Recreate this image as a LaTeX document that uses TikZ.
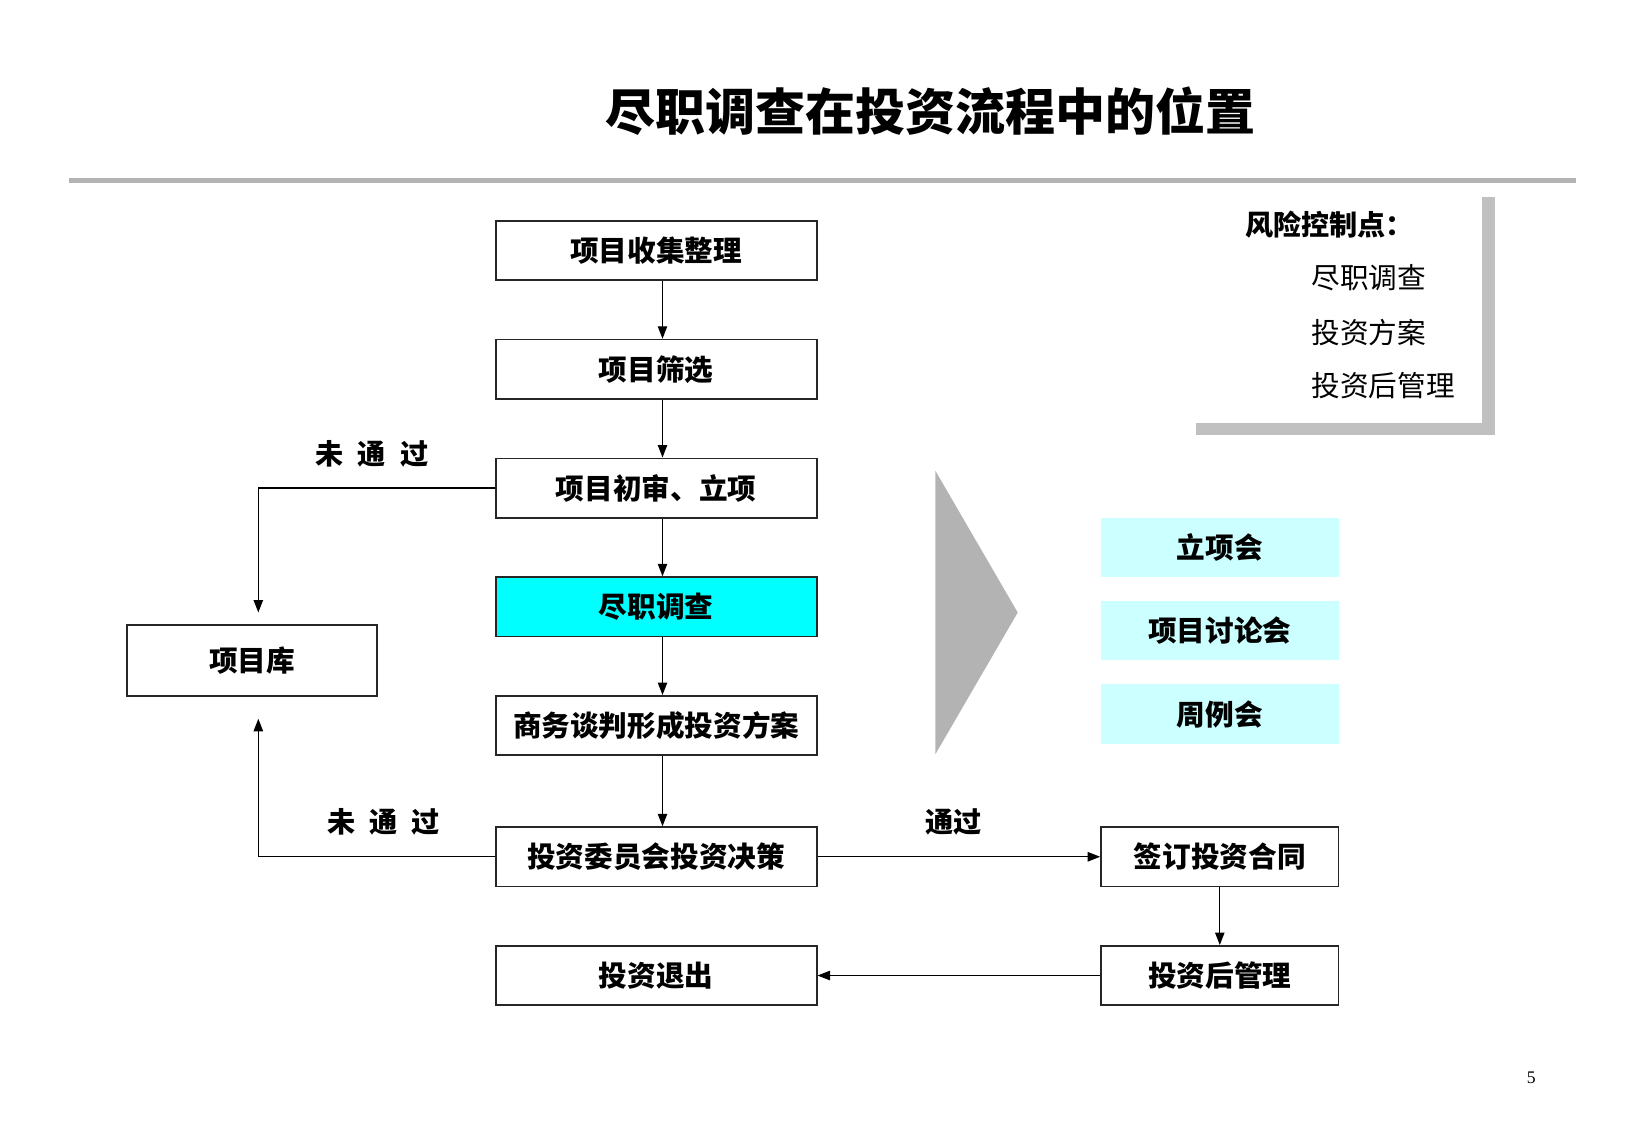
\documentclass[tikz,border=0pt]{standalone}
\usepackage{fontspec}
\setmainfont{Liberation Serif}
\newfontfamily\cjk{Noto Sans CJK SC}
\usetikzlibrary{arrows.meta}
\definecolor{barc}{HTML}{B3B3B3}
\definecolor{shadc}{HTML}{C0C0C0}
\definecolor{cyanb}{HTML}{00FFFF}
\definecolor{lcyan}{HTML}{CCFFFF}
\tikzset{
  flowbox/.style={draw=black!85, line width=1.6pt, minimum width=308pt, minimum height=57pt, inner sep=0pt, font=\cjk\bfseries\fontsize{27.5}{30}\selectfont},
  meetbox/.style={fill=lcyan, minimum width=228pt, minimum height=57pt, inner sep=0pt, font=\cjk\bfseries\fontsize{27.5}{30}\selectfont},
  lbl/.style={font=\cjk\bfseries\fontsize{27}{30}\selectfont, inner sep=0pt},
  risk/.style={font=\cjk\fontsize{27.5}{30}\selectfont, inner sep=0pt, anchor=west},
  arr/.style={line width=1.3pt, draw=black, -{Triangle[length=12pt,width=9pt]}},
}
\begin{document}
\begin{tikzpicture}[x=1pt,y=-1pt]
\useasboundingbox (0,0) rectangle (1560,1080);
% title
\node[font=\cjk\bfseries\fontsize{48}{52}\selectfont, inner sep=0pt] (title) at (893,107) {尽职调查在投资流程中的位置};
\fill[barc] (66,171) rectangle (1513,176);
% risk box
\fill[shadc] (1423,189) rectangle (1435,418);
\fill[shadc] (1148,406) rectangle (1435,418);
\node[risk, font=\cjk\bfseries\fontsize{27}{30}\selectfont] (rh) at (1195,216) {风险控制点：};
\node[risk] (r1) at (1259,267) {尽职调查};
\node[risk] (r2) at (1259,319) {投资方案};
\node[risk] (r3) at (1259,370) {投资后管理};
% main column
\node[flowbox] (b1) at (630,240.5) {项目收集整理};
\node[flowbox] (b2) at (630,354.5) {项目筛选};
\node[flowbox] (b3) at (630,468.5) {项目初审、立项};
\node[flowbox, fill=cyanb] (b4) at (630,582.5) {尽职调查};
\node[flowbox] (b5) at (630,696.5) {商务谈判形成投资方案};
\node[flowbox] (b6) at (630,822.5) {投资委员会投资决策};
\node[flowbox] (b7) at (630,936.5) {投资退出};
\node[flowbox, minimum width=240pt, minimum height=68pt] (lib) at (242,634) {项目库};
\node[flowbox, minimum width=228pt] (c1) at (1171,822.5) {签订投资合同};
\node[flowbox, minimum width=228pt] (c2) at (1171,936.5) {投资后管理};
% meetings
\node[meetbox] (m1) at (1171,525.5) {立项会};
\node[meetbox] (m2) at (1171,605.5) {项目讨论会};
\node[meetbox] (m3) at (1171,685.5) {周例会};
% triangle
\fill[barc] (898,452) -- (977,588) -- (898,724) -- cycle;
% vertical arrows
\foreach \a/\b in {b1/b2,b2/b3,b3/b4,b4/b5,b5/b6}
  \draw[arr] ([xshift=6pt]\a.south) -- ([xshift=6pt]\b.north);
\draw[arr] (c1.south) -- (c2.north);
\draw[arr] (b6.east) -- (c1.west);
\draw[arr] (c2.west) -- (b7.east);
% rejection paths
\coordinate (u1) at (248,588);
\coordinate (u2) at (248,690);
\draw[arr] (b3.west) -| (u1);
\draw[arr] (b6.west) -| (u2);
\node[lbl] (l1) at (357,436) {未\hspace{0.5em}通\hspace{0.5em}过};
\node[lbl] (l2) at (368,789) {未\hspace{0.5em}通\hspace{0.5em}过};
\node[lbl] (l3) at (915,789) {通过};
% page number
\node[font=\fontsize{17}{20}\selectfont, inner sep=0pt] (pg) at (1470,1035) {5};
\end{tikzpicture}
\end{document}
